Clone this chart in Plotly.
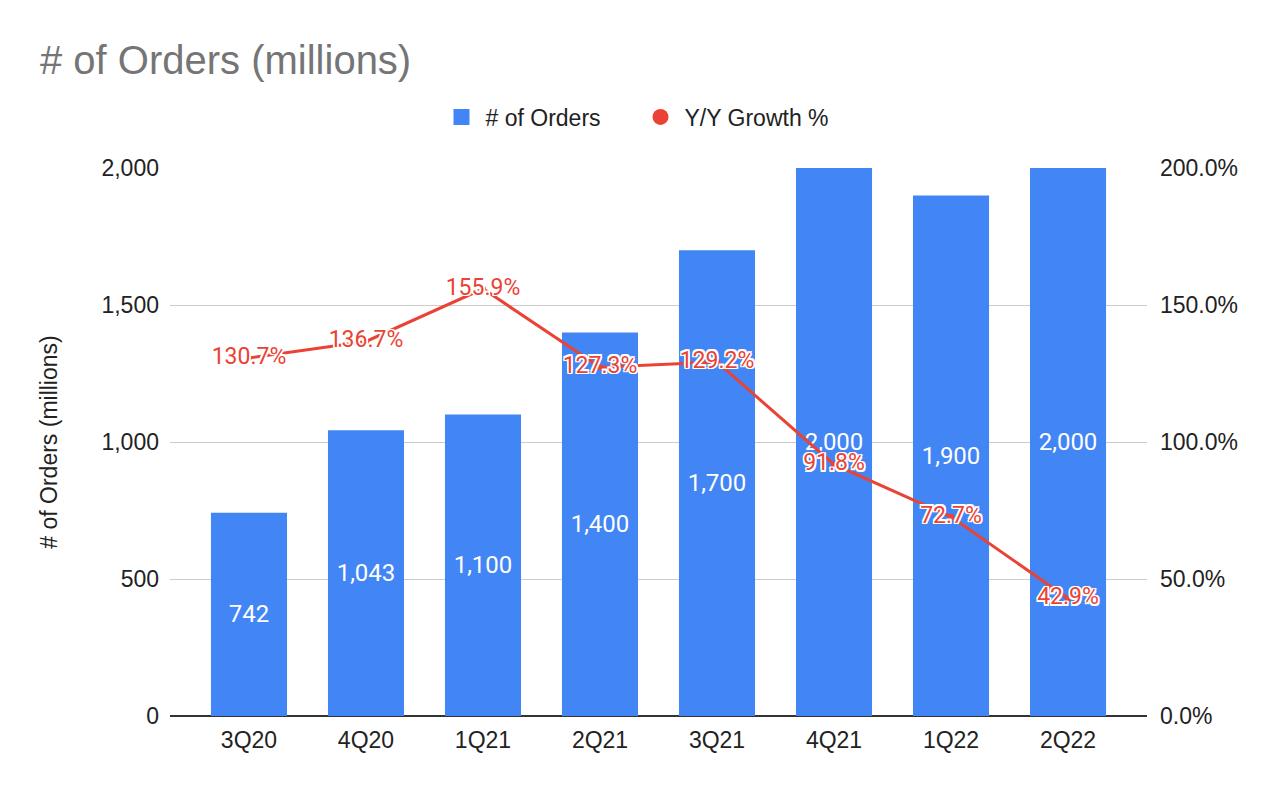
import plotly.graph_objects as go

quarters = ["3Q20", "4Q20", "1Q21", "2Q21", "3Q21", "4Q21", "1Q22", "2Q22"]
orders = [742, 1043, 1100, 1400, 1700, 2000, 1900, 2000]
growth = [130.7, 136.7, 155.9, 127.3, 129.2, 91.8, 72.7, 42.9]
left_ticks = [0, 500, 1000, 1500, 2000]
right_ticks = [0, 50, 100, 150, 200]

order_labels = [f"{v:,}" for v in orders]
growth_labels = [f"{v:.1f}%" for v in growth]
right_tick_text = [f"{v:.1f}%" for v in right_ticks]

BLUE = "#4285F4"
RED = "#EA4335"
AXFONT = "Liberation Sans, Arial, sans-serif"
LBLFONT = "Roboto, Arial, sans-serif"
outline = ("-1.5px -1.5px 0 #fff, 1.5px -1.5px 0 #fff, -1.5px 1.5px 0 #fff, 1.5px 1.5px 0 #fff, "
           "0 1.5px 0 #fff, 0 -1.5px 0 #fff, 1.5px 0 0 #fff, -1.5px 0 0 #fff")

fig = go.Figure()
fig.add_trace(go.Bar(
    x=quarters, y=orders, name="# of Orders",
    marker=dict(color=BLUE, line=dict(width=0)),
    width=0.65,
    text=order_labels, textposition="inside", insidetextanchor="middle",
    textfont=dict(family=LBLFONT, size=24, color="white"),
    textangle=0, cliponaxis=False, showlegend=False,
    yaxis="y",
))
fig.add_trace(go.Scatter(
    x=quarters, y=growth, name="Y/Y Growth %",
    mode="lines+markers+text",
    line=dict(color=RED, width=3),
    marker=dict(color=RED, size=6),
    text=growth_labels, textposition="middle center",
    textfont=dict(family=LBLFONT, size=23, color=RED, shadow=outline),
    cliponaxis=False, showlegend=False,
    yaxis="y2",
))
# legend-only entries (no data)
fig.add_trace(go.Scatter(x=[None], y=[None], mode="markers", name="# of Orders",
                         marker=dict(color=BLUE, symbol="square", size=22)))
fig.add_trace(go.Scatter(x=[None], y=[None], mode="markers", name="Y/Y Growth %",
                         marker=dict(color=RED, symbol="circle", size=22), yaxis="y2"))

fig.update_layout(
    width=1280, height=792,
    paper_bgcolor="white", plot_bgcolor="white",
    margin=dict(l=162, r=141, t=160, b=84),
    title=dict(text="# of Orders (millions)", x=32/1280, xanchor="left", y=1-52/792, yanchor="middle",
               font=dict(family=AXFONT, size=40, color="#757575")),
    legend=dict(orientation="h", x=0.5 - 22/977, xanchor="center", y=1 + (160-109)/548, yanchor="middle",
                font=dict(family=AXFONT, size=23, color="#222222"),
                itemsizing="trace", traceorder="normal", itemwidth=38, entrywidth=146),
    showlegend=True,
    xaxis=dict(
        range=[-0.675, 7.675], showgrid=False, showline=False, ticks="",
        tickfont=dict(family=AXFONT, size=23, color="#222222"),
        ticklabelstandoff=8,
    ),
    yaxis=dict(
        range=[0, 2000], tickvals=left_ticks, tickformat=",",
        showgrid=True, gridcolor="#cccccc", gridwidth=1,
        zeroline=True, zerolinecolor="#333333", zerolinewidth=1.5,
        tickfont=dict(family=AXFONT, size=23, color="#222222"),
        ticks="", ticklabelstandoff=10,
        title=dict(text="# of Orders (millions)", standoff=37,
                   font=dict(family=AXFONT, size=23, color="#222222")),
    ),
    yaxis2=dict(
        range=[0, 200], tickvals=right_ticks, ticktext=right_tick_text,
        overlaying="y", side="right", showgrid=False, zeroline=False,
        tickfont=dict(family=AXFONT, size=23, color="#222222"),
        ticks="", ticklabelstandoff=12,
    ),
)

fig.write_html("out.html")
